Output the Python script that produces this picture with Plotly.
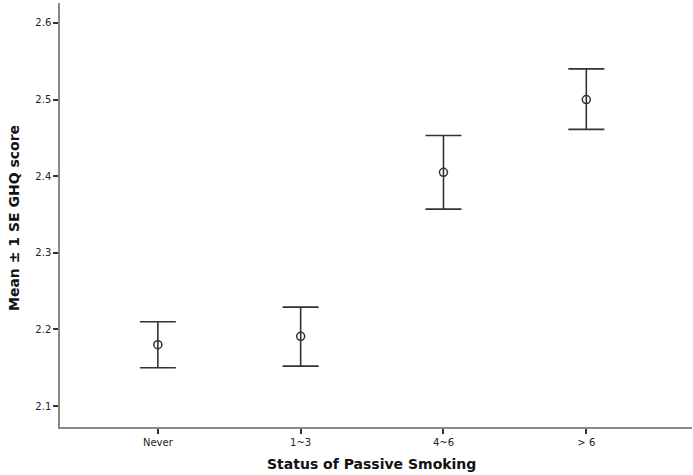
import plotly.graph_objects as go

categories = ["Never", "1~3", "4~6", "> 6"]
means = [2.180, 2.191, 2.405, 2.500]
upper = [2.210, 2.229, 2.453, 2.540]
lower = [2.150, 2.152, 2.357, 2.461]
y_ticks = [2.1, 2.2, 2.3, 2.4, 2.5, 2.6]

err_plus = [u - m for u, m in zip(upper, means)]
err_minus = [m - l for m, l in zip(means, lower)]

fig = go.Figure()
fig.add_trace(go.Scatter(
    x=list(range(len(categories))), y=means, mode="markers",
    marker=dict(symbol="circle-open", size=8, color="#333333", line=dict(width=1.5, color="#333333")),
    error_y=dict(type="data", symmetric=False, array=err_plus, arrayminus=err_minus,
                 color="#333333", thickness=1.6, width=18),
    showlegend=False,
))

fig.update_layout(
    width=693, height=475,
    margin=dict(l=60, r=1, t=3, b=48),
    paper_bgcolor="white", plot_bgcolor="white",
    font=dict(family="DejaVu Sans, sans-serif", color="#333333"),
    xaxis=dict(
        range=[-0.685, 3.74], tickmode="array", tickvals=list(range(len(categories))),
        ticktext=categories, showgrid=False, zeroline=False, automargin=False,
        showline=True, linecolor="#888888", linewidth=1.5,
        ticks="outside", ticklen=5, tickwidth=1.5, tickcolor="#333333",
        tickfont=dict(size=10, color="#222222"),
    ),
    yaxis=dict(
        range=[2.0726, 2.626], tickvals=y_ticks, tickformat=".1f",
        showgrid=False, zeroline=False, automargin=False,
        showline=True, linecolor="#888888", linewidth=1.5,
        ticks="outside", ticklen=5, tickwidth=1.5, tickcolor="#333333",
        tickfont=dict(size=10, color="#222222"),
    ),
    annotations=[
        dict(text="<b>Status of Passive Smoking</b>", xref="paper", yref="paper",
             x=(371 - 60) / 632, y=0, yshift=-37, showarrow=False,
             font=dict(family="DejaVu Sans", size=14, color="#111111"), xanchor="center", yanchor="middle"),
        dict(text="<b>Mean ± 1 SE GHQ score</b>", xref="paper", yref="paper",
             x=0, xshift=-46, y=(427 - 218) / 424, textangle=-90, showarrow=False,
             font=dict(family="DejaVu Sans", size=14, color="#111111"), xanchor="center", yanchor="middle"),
    ],
)

fig.write_html("out.html", config={"displayModeBar": False},
               post_script="document.body.style.margin='0';document.body.style.overflow='hidden';")
